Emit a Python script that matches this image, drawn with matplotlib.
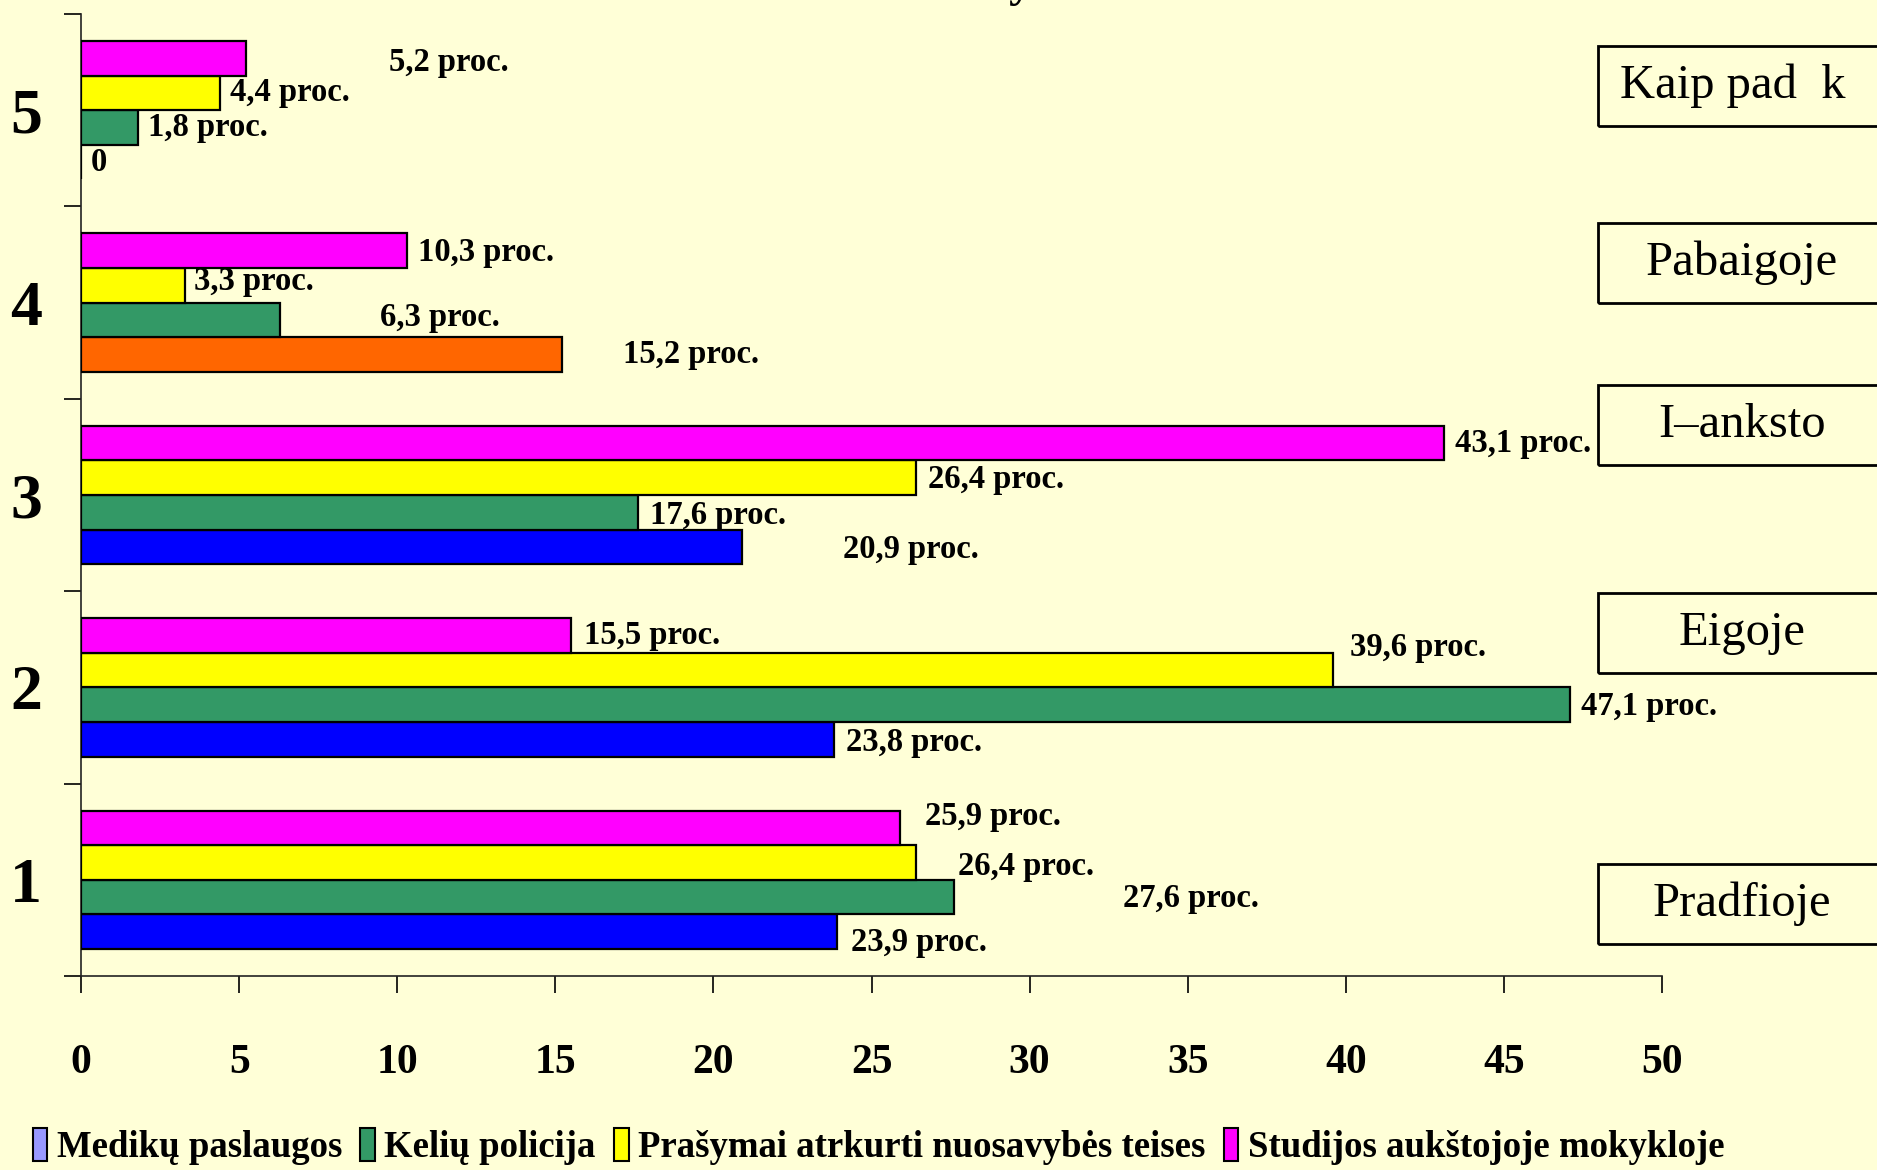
import numpy as np
import matplotlib
matplotlib.use("Agg")
import matplotlib.pyplot as plt
from matplotlib.patches import Patch, Rectangle

# --- data ---
groups = ["1", "2", "3", "4", "5"]
series_names = ["Medikų paslaugos", "Kelių policija",
                "Prašymai atrkurti nuosavybės teises", "Studijos aukštojoje mokykloje"]
medikai = [23.9, 23.8, 20.9, 15.2, 0.0]
keliu_policija = [27.6, 47.1, 17.6, 6.3, 1.8]
prasymai = [26.4, 39.6, 26.4, 3.3, 4.4]
studijos = [25.9, 15.5, 43.1, 10.3, 5.2]
phase_labels = ["Pradfioje", "Eigoje", "I–anksto", "Pabaigoje", "Kaip pad  k"]
x_ticks = [0, 5, 10, 15, 20, 25, 30, 35, 40, 45, 50]

# styles
BG = "#FFFFD7"
bar_colors = ["#0000FF", "#339966", "#FFFF00", "#FF00FF"]
legend_colors = ["#9999FF", "#339966", "#FFFF00", "#FF00FF"]
medikai_colors = ["#0000FF", "#0000FF", "#0000FF", "#FF6600", "#0000FF"]

# label offsets (points) as placed on the original slide, per series per group
label_offsets = [
    [(10, -8), (9, -2), (73, -2), (44, 0), (7, 0)],
    [(122, -1), (8, -1), (9, -2), (72, 2), (7, 0)],
    [(30, -3), (12, 16), (9, -1), (6, 3), (7, 0)],
    [(18, 8), (9, 0), (8, 0), (8, -1), (103, -3)],
]

FONT = "Liberation Serif"


def fmt(v):
    if v == 0:
        return "0"
    return f"{v:.1f}".replace(".", ",") + " proc."


fig = plt.figure(figsize=(18.77, 11.70), dpi=100, facecolor=BG)
ax = fig.add_axes([0.0432, 0.1658, 0.8423, 0.8222])
ax.set_facecolor(BG)

y = np.arange(len(groups))
w = 0.18
all_series = [medikai, keliu_policija, prasymai, studijos]
for i, vals in enumerate(all_series):
    cols = medikai_colors if i == 0 else [bar_colors[i]] * len(vals)
    ypos = y + (i - 1.5) * w
    ax.barh(ypos, vals, height=w, color=cols, edgecolor="black", linewidth=1.6, zorder=3)
    for j, v in enumerate(vals):
        dx, dy = label_offsets[i][j]
        ax.annotate(fmt(v), (v, ypos[j]), xytext=(dx, dy), textcoords="offset points",
                    ha="left", va="center", fontsize=23.5, fontweight="bold",
                    family=FONT, zorder=4)

ax.set_xlim(0, 50)
ax.set_ylim(-0.5, 4.5)
ax.set_xticks(x_ticks)
ax.set_xticklabels([str(t) for t in x_ticks], fontsize=30, fontweight="bold", family=FONT)
ax.set_yticks(y)
ax.set_yticklabels(groups, fontsize=46, fontweight="bold", family=FONT)
ax.set_yticks(np.arange(-0.5, 5.0, 1.0), minor=True)
ax.tick_params(axis="y", which="major", length=0, pad=28)
ax.tick_params(axis="y", which="minor", length=12, width=1.2, direction="out")
ax.tick_params(axis="x", length=12, width=1.2, direction="out", pad=37)

for s in ["top", "right"]:
    ax.spines[s].set_visible(False)
for s in ["left", "bottom"]:
    ax.spines[s].set_linewidth(1.2)
    ax.spines[s].set_color("#222222")

# boxed phase names on the right, partly cut by the slide edge
box_centers = [0.2274, 0.459, 0.6368, 0.7752, 0.9265]
text_x = [0.928, 0.928, 0.928, 0.928, 0.923]
for name, yc, tx in zip(phase_labels, box_centers, text_x):
    fig.patches.append(Rectangle((0.8514, yc - 0.0342), 0.2, 0.0684,
                                 transform=fig.transFigure, facecolor="none",
                                 edgecolor="black", linewidth=2, clip_on=False))
    fig.text(tx, yc, name, ha="center", va="center", fontsize=35, family=FONT)

# remnant of the cut-off title
fig.text(0.5435, 1.003, "y", ha="center", va="baseline", fontsize=34,
         fontweight="bold", family=FONT)

handles = [Patch(facecolor=c, edgecolor="black", linewidth=1.5) for c in legend_colors]
leg = fig.legend(handles, series_names, loc="center", bbox_to_anchor=(0.468, 0.02),
                 ncol=4, frameon=False, handlelength=0.4, handleheight=1.0,
                 handletextpad=0.25, columnspacing=0.5,
                 prop={"family": FONT, "weight": "bold", "size": 26.5})

fig.savefig("out.png", dpi=100, facecolor=BG)
